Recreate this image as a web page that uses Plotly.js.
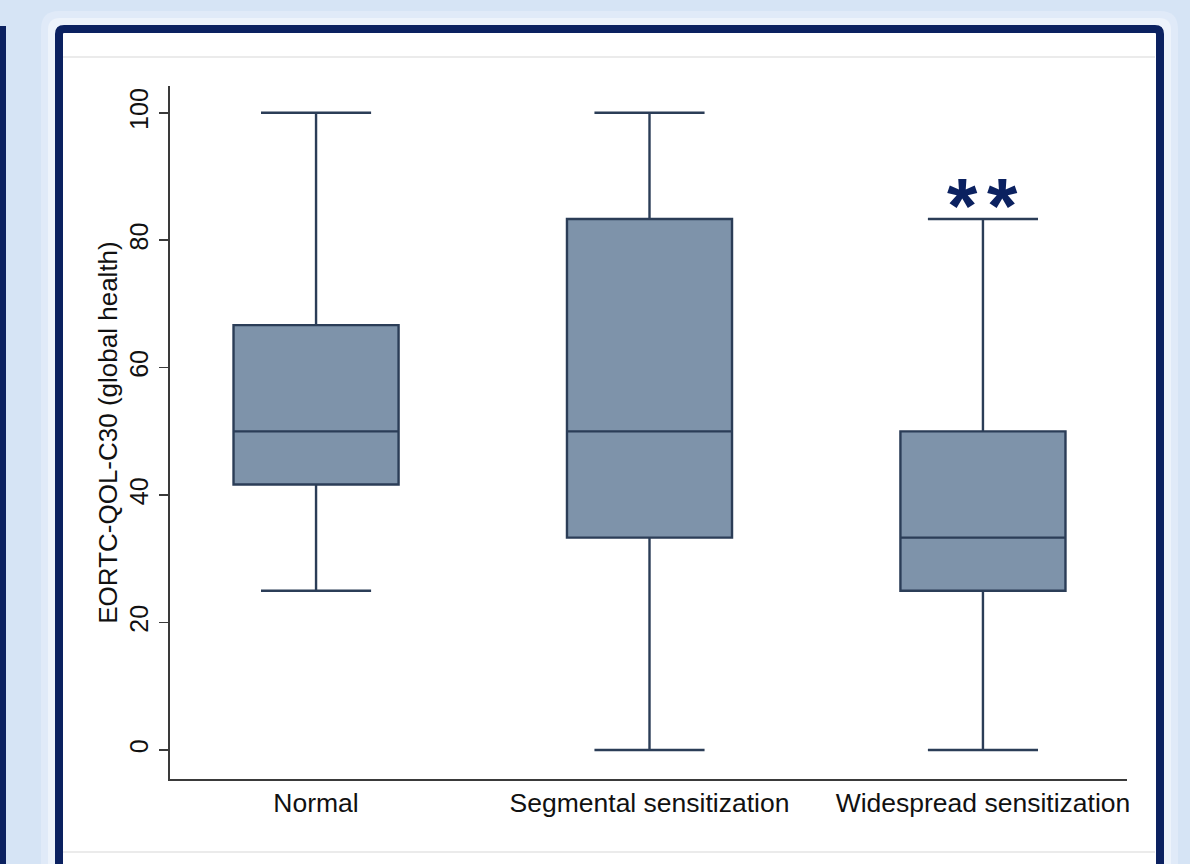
<!DOCTYPE html>
<html>
<head>
<meta charset="utf-8">
<script src="https://cdn.plot.ly/plotly-3.0.1.min.js"></script>
<style>
  html, body { margin: 0; padding: 0; background: #d6e4f5; }
  #chart { width: 1190px; height: 864px; }
</style>
</head>
<body>
<div id="chart"></div>
<script>
// ---- data ----
const categories = ["Normal", "Segmental sensitization", "Widespread sensitization"];
const lowerWhisker = [25, 0, 0];
const q1Values = [41.67, 33.33, 25];
const medianValues = [50, 50, 33.33];
const q3Values = [66.67, 83.33, 50];
const upperWhisker = [100, 100, 83.33];
const yTickValues = [0, 20, 40, 60, 80, 100];
const yTickLabels = ["0", "20", "40", "60", "80", "100"];
const significanceLabel = "*";
const significanceCategory = "Widespread sensitization";
const yTitle = "EORTC-QOL-C30 (global health)";

// ---- frame geometry helpers (pixels -> paper) ----
const W = 1190, H = 864;
const L = 170, R = 1127, T = 86, B = 779;
const px = v => (v - L) / (R - L);
const py = v => (B - v) / (B - T);

function roundRectPath(x0, y0, x1, y1, r) {
  const X = px, Y = py;
  return `M ${X(x0 + r)} ${Y(y0)} L ${X(x1 - r)} ${Y(y0)} Q ${X(x1)} ${Y(y0)} ${X(x1)} ${Y(y0 + r)} ` +
         `L ${X(x1)} ${Y(y1 - r)} Q ${X(x1)} ${Y(y1)} ${X(x1 - r)} ${Y(y1)} ` +
         `L ${X(x0 + r)} ${Y(y1)} Q ${X(x0)} ${Y(y1)} ${X(x0)} ${Y(y1 - r)} ` +
         `L ${X(x0)} ${Y(y0 + r)} Q ${X(x0)} ${Y(y0)} ${X(x0 + r)} ${Y(y0)} Z`;
}

const navy = "#0b2160";
const shapes = [
  // soft halo around panel
  {type: "path", xref: "paper", yref: "paper", layer: "below", path: roundRectPath(41, 11, 1178, 900, 18), fillcolor: "#e0eaf8", line: {width: 0}},
  {type: "path", xref: "paper", yref: "paper", layer: "below", path: roundRectPath(48, 18, 1171, 900, 12), fillcolor: "#edf3fb", line: {width: 0}},
  // left navy bar
  {type: "rect", xref: "paper", yref: "paper", layer: "below", x0: px(0), x1: px(6), y0: py(26), y1: py(880), fillcolor: navy, line: {width: 0}},
  // panel with navy border
  {type: "path", xref: "paper", yref: "paper", layer: "below", path: roundRectPath(59, 29, 1160, 900, 5), fillcolor: "#ffffff", line: {color: navy, width: 8}},
  // faint inner separator lines
  {type: "line", xref: "paper", yref: "paper", layer: "below", x0: px(63), x1: px(1155), y0: py(57), y1: py(57), line: {color: "#ebebeb", width: 2}},
  {type: "line", xref: "paper", yref: "paper", layer: "below", x0: px(63), x1: px(1155), y0: py(852), y1: py(852), line: {color: "#ebebeb", width: 2}}
];

const trace = {
  type: "box",
  x: categories,
  q1: q1Values,
  median: medianValues,
  q3: q3Values,
  lowerfence: lowerWhisker,
  upperfence: upperWhisker,
  fillcolor: "#7e93aa",
  line: {color: "#2b3d57", width: 2.4},
  whiskerwidth: 0.667,
  boxpoints: false,
  hoverinfo: "skip",
  showlegend: false
};

const annotations = [-20, 20].map(s => ({
  x: significanceCategory, y: upperWhisker[2], xref: "x", yref: "y",
  text: significanceLabel, showarrow: false, xshift: s, yshift: -33,
  yanchor: "bottom",
  font: {family: "Liberation Sans, Arial, sans-serif", size: 78, color: navy, weight: "bold"}
}));

const layout = {
  width: W, height: H,
  margin: {l: L, r: W - R, t: T, b: H - B, pad: 0},
  paper_bgcolor: "#d6e4f5",
  plot_bgcolor: "rgba(0,0,0,0)",
  font: {family: "Liberation Sans, Arial, Helvetica, sans-serif", color: "#111111"},
  boxgap: 0.505,
  boxgroupgap: 0,
  shapes: shapes,
  annotations: annotations,
  xaxis: {
    type: "category",
    range: [-0.438, 2.432],
    showline: true, linecolor: "#3a3a3a", linewidth: 1.6,
    ticks: "", showgrid: false, zeroline: false,
    tickfont: {size: 26.5, color: "#111111"},
    ticklabelstandoff: 0,
    fixedrange: true
  },
  yaxis: {
    range: [-4.55, 104.2],
    tickvals: yTickValues, ticktext: yTickLabels,
    tickangle: -90,
    ticks: "outside", ticklen: 9, tickwidth: 1.6, tickcolor: "#3a3a3a",
    showline: true, linecolor: "#3a3a3a", linewidth: 1.6,
    showgrid: false, zeroline: false,
    tickfont: {size: 25, color: "#111111"},
    ticklabelstandoff: 1,
    title: {text: yTitle, font: {size: 26, color: "#111111"}, standoff: 0},
    fixedrange: true
  }
};

Plotly.newPlot("chart", [trace], layout, {displayModeBar: false, staticPlot: true});
</script>
</body>
</html>
